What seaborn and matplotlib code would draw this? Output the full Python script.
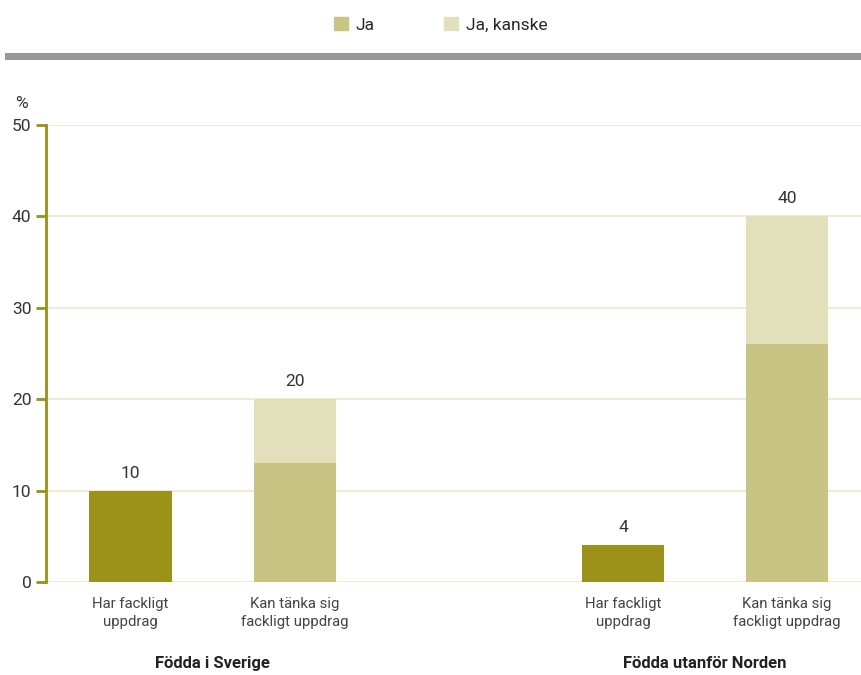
import matplotlib
matplotlib.use("Agg")
import matplotlib.pyplot as plt
from matplotlib.patches import Patch, Rectangle
import seaborn as sns
import pandas as pd

# data
groups = ["Födda i Sverige", "Födda utanför Norden"]
categories = ["Har fackligt\nuppdrag", "Kan tänka sig\nfackligt uppdrag",
              "Har fackligt\nuppdrag", "Kan tänka sig\nfackligt uppdrag"]
ja = [10, 13, 4, 26]
ja_kanske = [0, 7, 0, 14]
totals = [10, 20, 4, 40]
series_names = ["Ja", "Ja, kanske"]

pos = [0, 1, 3, 4]
dark = "#9c9119"
c_ja = "#c9c484"
c_kanske = "#e2dfbb"
olive = "#9a9118"

sns.set_style("white")
plt.rcParams["font.family"] = ["Roboto", "DejaVu Sans"]

df = pd.DataFrame({"pos": pos, "ja": ja, "kanske": ja_kanske, "total": totals,
                   "kind": ["har", "kan", "har", "kan"]})

fig = plt.figure(figsize=(8.61, 6.75), dpi=100)
ax = fig.add_axes([46 / 861, 1 - 582 / 675, 1 - 46 / 861, (582 - 125) / 675])

sns.barplot(data=df, x="pos", y="total", native_scale=True, width=0.5,
            color=c_kanske, saturation=1, linewidth=0, ax=ax, zorder=3)
sns.barplot(data=df, x="pos", y="ja", hue="kind", native_scale=True, width=0.5,
            palette={"har": dark, "kan": c_ja}, saturation=1, legend=False,
            dodge=False, linewidth=0, ax=ax, zorder=4)

for p, t in zip(pos, totals):
    ax.text(p, t + 1.1, f"{t}", ha="center", va="bottom", fontsize=12.5, color="#333333")

ax.set_ylim(0, 50)
ax.set_xlim(-0.515, 4.45)
ax.set_yticks([0, 10, 20, 30, 40, 50])
ax.set_xticks(pos)
ax.set_xticklabels(categories, fontsize=10.7, color="#444444", linespacing=1.3)
ax.tick_params(axis="x", length=0, pad=11)
ax.tick_params(axis="y", direction="out", length=7.5, width=2, color=olive,
               labelsize=12.5, labelcolor="#333333", pad=3, left=True)
ax.set_xlabel("")
ax.set_ylabel("")
ax.yaxis.grid(True, color="#efebd3", linewidth=1.5, zorder=0)
ax.set_axisbelow(True)
for s in ["top", "right", "bottom"]:
    ax.spines[s].set_visible(False)
ax.spines["left"].set_color(olive)
ax.spines["left"].set_linewidth(2)

# group labels
for g, x in zip(groups, [0.5, 3.5]):
    ax.text(x, -0.178, g, transform=ax.get_xaxis_transform(), ha="center",
            va="center", fontsize=12, fontweight="bold", color="#222222")

fig.text(21 / 861, 1 - 103 / 675, "%", ha="center", va="center", fontsize=12.5, color="#333333")

# grey band under legend
fig.add_artist(Rectangle((5 / 861, 1 - 60 / 675), 856 / 861, 7 / 675,
                         transform=fig.transFigure, color="#97979c", lw=0))

handles = [Patch(color=c_ja), Patch(color=c_kanske)]
fig.legend(handles, series_names, loc="center", bbox_to_anchor=(441 / 861, 1 - 25 / 675),
           ncol=2, frameon=False, handlelength=0.8, handleheight=0.8,
           handletextpad=0.45, columnspacing=4.0, fontsize=12.5)

fig.savefig("out.png", dpi=100)
